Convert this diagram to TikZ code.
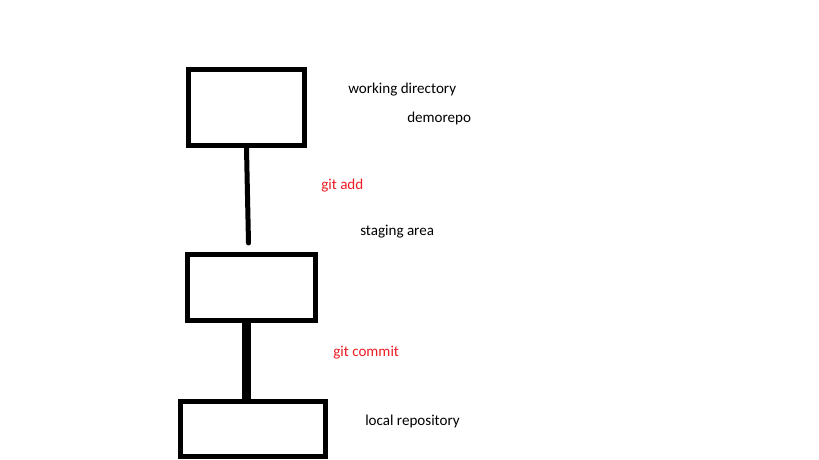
\documentclass[tikz,border=0pt]{standalone}
\usepackage{fontspec}
\setmainfont{Carlito}
\definecolor{gitred}{RGB}{237,28,36}
\tikzset{
  stage/.style={draw=black, line width=5*0.75pt, fill=white, inner sep=0pt},
  caption/.style={anchor=base west, inner sep=0pt, font=\fontsize{11.3}{13}\selectfont},
  cmd/.style={caption, text=gitred},
}
\begin{document}
\begin{tikzpicture}[x=0.75pt, y=-0.75pt]
			\useasboundingbox[fill=white] (0,0) rectangle (819,460);
			% boxes
			\node[stage, minimum width=116*0.75pt, minimum height=76*0.75pt] (wd) at (246.5,107.5) {};
			\node[stage, minimum width=128*0.75pt, minimum height=66*0.75pt] (sa) at (251.5,287.5) {};
			\node[stage, minimum width=145*0.75pt, minimum height=55*0.75pt] (lr) at (253,429) {};
			\coordinate (saTop) at (248.5,243);
			% connectors
			\draw[line width=5*0.75pt, line cap=round] (wd.south) -- (saTop);
			\draw[line width=9*0.75pt] (sa.south -| wd.south) -- (lr.north -| wd.south);
			% labels
			\node[caption] (wdLabel) at (348,94) {working directory};
			\node[caption] (repoLabel) at (407,123) {demorepo};
			\node[cmd] (addLabel) at (321,190) {git add};
			\node[caption] (saLabel) at (360,235) {staging area};
			\node[cmd] (commitLabel) at (333,356) {git commit};
			\node[caption] (lrLabel) at (365,425) {local repository};
			\end{tikzpicture}
\end{document}
